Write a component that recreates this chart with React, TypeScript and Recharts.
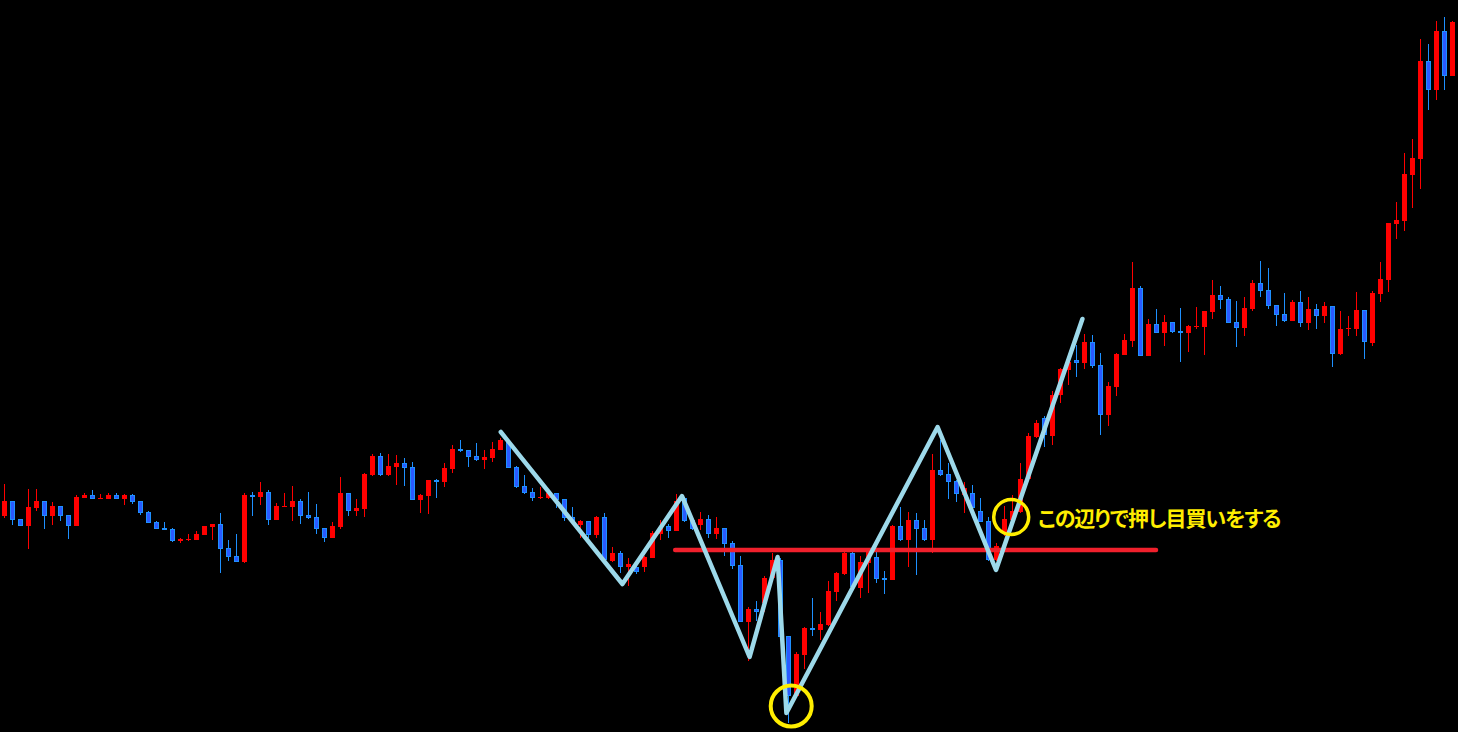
import { ComposedChart, Bar, Scatter, XAxis, YAxis, ReferenceLine, ReferenceDot } from 'recharts'

// candle prices (chart units)
const opens = [
  216, 231, 213, 206, 224, 231, 216, 226, 217, 206, 234, 237, 233, 233, 237, 233, 237, 231, 220, 210,
  204, 203, 191, 192, 192, 197, 205, 208, 184, 176, 170, 237, 235, 240, 212, 225, 225, 231, 217, 215,
  204, 194, 205, 239, 221, 223, 257, 276, 257, 265, 269, 265, 232, 236, 252, 250, 263, 283, 282, 276,
  272, 274, 282, 290, 265, 246, 240, 234, 234, 239, 233, 215, 207, 211, 197, 215, 171, 179, 165, 165,
  165, 174, 198, 206, 201, 234, 212, 207, 213, 198, 204, 189, 167, 110, 123, 129, 154, 172, 96, 36,
  77, 104, 102, 107, 140, 158, 179, 144, 169, 175, 154, 152, 206, 192, 212, 204, 192, 262, 258, 251,
  237, 239, 221, 211, 172, 200, 212, 220, 253, 295, 314, 296, 337, 362, 372, 369, 390, 367, 317, 345,
  377, 391, 444, 376, 408, 399, 410, 401, 399, 405, 405, 420, 437, 433, 410, 404, 423, 449, 442, 427,
  418, 411, 430, 409, 423, 416, 426, 378, 403, 403, 422, 389, 438, 452, 508, 511, 557, 573, 671, 642,
  701, 656,
]
const highs = [
  248, 231, 213, 243, 243, 231, 230, 226, 217, 237, 239, 242, 238, 239, 239, 238, 238, 231, 221, 211,
  210, 204, 194, 198, 201, 206, 208, 219, 192, 198, 239, 240, 250, 242, 229, 239, 246, 233, 240, 228,
  204, 210, 255, 239, 233, 259, 278, 279, 278, 277, 274, 270, 238, 252, 253, 269, 287, 292, 282, 289,
  282, 290, 294, 292, 266, 257, 244, 245, 241, 239, 233, 225, 212, 211, 216, 219, 185, 181, 174, 167,
  176, 201, 212, 208, 238, 235, 213, 220, 217, 215, 204, 191, 176, 125, 131, 156, 179, 174, 96, 80,
  105, 134, 120, 151, 160, 180, 180, 176, 184, 180, 161, 207, 225, 220, 219, 212, 278, 292, 269, 252,
  250, 247, 234, 215, 189, 226, 237, 269, 299, 312, 316, 341, 364, 372, 387, 398, 397, 379, 350, 379,
  398, 470, 446, 413, 423, 417, 410, 424, 407, 425, 421, 452, 446, 435, 431, 435, 452, 471, 464, 427,
  439, 432, 441, 435, 428, 430, 426, 421, 416, 440, 422, 441, 470, 509, 530, 579, 593, 693, 688, 711,
  715, 711,
]
const lows = [
  214, 207, 206, 183, 221, 203, 207, 211, 193, 206, 234, 233, 233, 233, 233, 227, 228, 217, 209, 203,
  202, 190, 189, 191, 192, 197, 192, 159, 171, 170, 169, 216, 227, 207, 212, 225, 211, 208, 213, 198,
  190, 194, 203, 216, 216, 215, 256, 256, 256, 247, 246, 232, 219, 218, 234, 245, 259, 280, 265, 271,
  263, 270, 282, 264, 244, 238, 231, 233, 233, 224, 211, 209, 194, 194, 194, 171, 170, 159, 146, 158,
  160, 174, 192, 194, 201, 210, 202, 202, 194, 193, 176, 163, 110, 71, 111, 120, 152, 95, 9, 34,
  63, 96, 92, 106, 131, 157, 144, 134, 139, 149, 138, 152, 191, 165, 157, 191, 179, 256, 233, 230,
  219, 224, 210, 171, 171, 196, 210, 219, 252, 294, 285, 287, 329, 347, 355, 363, 364, 297, 306, 336,
  377, 385, 376, 376, 399, 386, 399, 370, 380, 403, 377, 413, 423, 409, 385, 396, 421, 435, 423, 406,
  410, 411, 405, 402, 403, 409, 365, 377, 396, 396, 373, 386, 430, 440, 493, 501, 524, 543, 622, 632,
  642, 656,
]
const closes = [
  231, 212, 206, 225, 231, 216, 226, 216, 206, 235, 237, 233, 234, 237, 233, 237, 230, 219, 209, 203,
  202, 191, 193, 193, 198, 206, 208, 183, 175, 170, 237, 235, 240, 212, 226, 226, 231, 216, 214, 203,
  194, 206, 239, 221, 224, 258, 276, 257, 266, 269, 264, 232, 237, 252, 250, 264, 283, 281, 275, 272,
  275, 283, 292, 264, 245, 239, 234, 235, 239, 232, 214, 210, 211, 197, 215, 172, 179, 165, 168, 160,
  175, 199, 205, 201, 231, 211, 203, 213, 198, 204, 188, 166, 110, 123, 120, 154, 172, 95, 36, 78,
  104, 102, 108, 141, 159, 179, 145, 170, 182, 153, 152, 206, 192, 212, 203, 192, 262, 257, 250, 238,
  244, 224, 210, 172, 186, 213, 221, 253, 296, 309, 297, 337, 363, 370, 369, 390, 366, 317, 346, 378,
  392, 444, 376, 408, 399, 410, 400, 399, 406, 406, 421, 437, 432, 409, 404, 424, 449, 441, 426, 417,
  411, 430, 409, 423, 416, 426, 378, 403, 404, 422, 390, 439, 453, 509, 512, 558, 574, 671, 642, 701,
  656, 710,
]

// zigzag drawn over the candles (candle index, price)
const zigzagT = [62.1, 77.3, 84.75, 93.2, 96.7, 97.8, 116.7, 124.0, 134.8]
const zigzagPrice = [300, 148, 236, 75, 175, 19, 305, 162, 413]

// neckline
const necklinePrice = 182
const necklineStart = 83.9
const necklineEnd = 144

// yellow marks
const markT = [98.4, 125.9]
const markPrice = [26, 215]

const note = 'この辺りで押し目買いをする'

const candles = opens.map((o, i) => ({ i, open: o, high: highs[i], low: lows[i], close: closes[i] }))
const zigzag = zigzagT.map((t, i) => ({ t, price: zigzagPrice[i] }))

const UP = '#FF0000'
const DOWN_LINE = '#1E90FF'
const DOWN_FILL = '#2A5AFF'

function Candle(props: any) {
  const { x, y, width, height, payload } = props
  if (x == null || y == null || !payload) return null
  const { open, close, high, low } = payload
  const top = Math.min(y, y + height)
  const span = Math.abs(height)
  const yOf = (v: number) => top + ((high - v) / (high - low)) * span
  const c = Math.floor(x + width / 2)
  const up = close >= open
  const yHigh = Math.round(yOf(high))
  const yLow = Math.round(yOf(low))
  const bTop = Math.round(yOf(Math.max(open, close)))
  let bBot = Math.round(yOf(Math.min(open, close)))
  if (bBot - bTop < 1) bBot = bTop + 1
  const h = bBot - bTop
  const wickColor = up ? UP : DOWN_LINE
  return (
    <g>
      <line x1={c + 0.5} x2={c + 0.5} y1={yHigh} y2={yLow} stroke={wickColor} strokeWidth={1} />
      {up ? (
        <rect x={c - 2} y={bTop} width={5} height={h} fill={UP} />
      ) : h <= 2 ? (
        <rect x={c - 2} y={bTop} width={5} height={h} fill={DOWN_LINE} />
      ) : (
        <rect x={c - 1.5} y={bTop + 0.5} width={4} height={h - 1} fill={DOWN_FILL} stroke={DOWN_LINE} strokeWidth={1} />
      )}
    </g>
  )
}

export default function App() {
  return (
    <div style={{ position: 'fixed', left: 0, top: 0, width: 1458, height: 732, background: '#000', overflow: 'hidden' }}>
      <ComposedChart width={1458} height={732} data={candles} margin={{ top: 0, right: 2, left: 0, bottom: 0 }}>
        <XAxis dataKey="i" type="category" hide />
        <XAxis xAxisId="t" dataKey="t" type="number" domain={[-0.5, 181.5]} allowDataOverflow hide />
        <YAxis type="number" domain={[0, 732]} allowDataOverflow hide />
        <YAxis yAxisId="p" dataKey="price" type="number" domain={[0, 732]} allowDataOverflow hide />
        <Bar dataKey={(d: any) => [d.low, d.high]} barSize={5} shape={Candle} isAnimationActive={false} />
        <ReferenceLine
          xAxisId="t"
          yAxisId="p"
          segment={[{ x: necklineStart, y: necklinePrice }, { x: necklineEnd, y: necklinePrice }]}
          stroke="#F0202C"
          strokeWidth={4.5}
          strokeLinecap="round"
        />
        <Scatter
          data={zigzag}
          xAxisId="t"
          yAxisId="p"
          line={{ stroke: '#9DD9EA', strokeWidth: 4.5, strokeLinejoin: 'round', strokeLinecap: 'round' }}
          shape={() => <g />}
          isAnimationActive={false}
        />
        {markT.map((t, i) => (
          <ReferenceDot
            key={i}
            xAxisId="t"
            yAxisId="p"
            x={t}
            y={markPrice[i]}
            r={i === 0 ? 20.5 : 17.5}
            fill="none"
            stroke="#FFEE00"
            strokeWidth={i === 0 ? 4 : 3.5}
          />
        ))}
      </ComposedChart>
      <div
        style={{
          position: 'absolute',
          left: 1038,
          top: 504,
          color: '#FFEE00',
          fontFamily: '"Noto Sans CJK JP", sans-serif',
          fontWeight: 700,
          fontSize: 21,
          letterSpacing: -1,
          lineHeight: '26px',
          fontFeatureSettings: '"palt"',
          whiteSpace: 'nowrap',
        }}
      >
        {note}
      </div>
    </div>
  )
}
